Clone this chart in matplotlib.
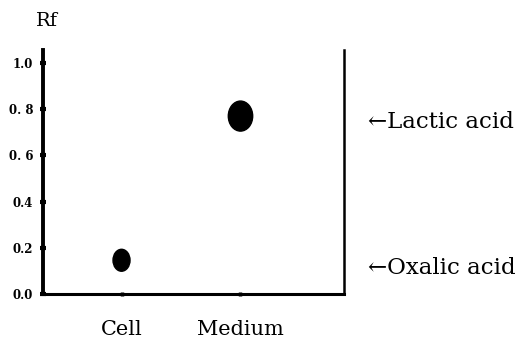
import matplotlib
matplotlib.use("Agg")
import matplotlib.pyplot as plt
from matplotlib.patches import Ellipse
import matplotlib.transforms as mtransforms

# Data
lanes = ["Cell", "Medium"]
lane_pos = [1, 2]
spot_rf = [0.146, 0.77]
spot_w = [0.143, 0.205]
spot_h = [0.095, 0.13]
ytick_vals = [0.0, 0.2, 0.4, 0.6, 0.8, 1.0]
ytick_labels = ["0.0", "0.2", "0.4", "0. 6", "0. 8", "1.0"]
markers = ["←Lactic acid", "←Oxalic acid"]
marker_rf = [0.745, 0.113]

fig = plt.figure(figsize=(5.25, 3.4), dpi=100)
ax = fig.add_axes([43 / 525, 46 / 340, 301 / 525, 244 / 340])
ax.set_xlim(0.34, 2.87)
ax.set_ylim(0, 1.056)

for x, rf, w, h in zip(lane_pos, spot_rf, spot_w, spot_h):
    ax.add_patch(Ellipse((x, rf), w, h, facecolor="black", edgecolor="black"))

ax.spines["top"].set_visible(False)
ax.spines["left"].set_linewidth(2.8)
ax.spines["bottom"].set_linewidth(2.2)
ax.spines["right"].set_linewidth(1.8)

ax.set_yticks(ytick_vals)
ax.set_yticklabels(ytick_labels, family="DejaVu Serif", fontsize=8.5, fontweight="bold")
ax.tick_params(axis="y", direction="inout", length=4, width=3, pad=5)
ax.tick_params(axis="y", right=False)

ax.set_xticks(lane_pos)
ax.set_xticklabels(lanes, family="DejaVu Serif", fontsize=15)
ax.tick_params(axis="x", direction="inout", length=3, width=2.5, pad=17)

ax.text(0.013, 1.12, "Rf", transform=ax.transAxes, ha="center", va="center",
        family="DejaVu Serif", fontsize=14)

trans = mtransforms.blended_transform_factory(ax.transAxes, ax.transData)
for label, rf in zip(markers, marker_rf):
    ax.text(1.08, rf, label, transform=trans, ha="left", va="center",
            family="DejaVu Serif", fontsize=16.5, clip_on=False)

fig.savefig("out.png", dpi=100)
